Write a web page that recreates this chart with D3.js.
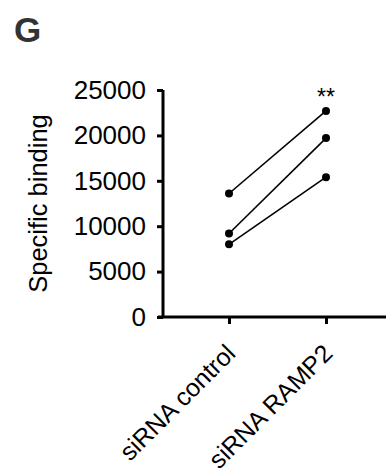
<!DOCTYPE html>
<html lang="en">
<head>
<meta charset="UTF-8">
<title>Specific binding</title>
<script src="https://d3js.org/d3.v7.min.js"></script>
<style>
    body { margin: 0; background: #fff; }
    text { font-family: "Liberation Sans", Arial, sans-serif; fill: #000; }
</style>
</head>
<body>
<div id="chart"></div>
<script>
    // data
    const groups = ['siRNA control', 'siRNA RAMP2'];
    const controlValues = [13600, 9200, 8000];
    const rampValues = [22700, 19700, 15400];
    const yTicks = [0, 5000, 10000, 15000, 20000, 25000];
    const significance = '**';

    const width = 386, height = 475;
    const margin = {top: 90, right: 0, bottom: 158, left: 163};

    const svg = d3.select('#chart').append('svg')
        .attr('width', width)
        .attr('height', height);

    // panel letter
    svg.append('text')
        .attr('x', 14).attr('y', 42)
        .style('font-size', '35px')
        .style('font-weight', 'bold')
        .style('fill', '#333')
        .text('G');

    const y = d3.scaleLinear()
        .domain([0, 25000])
        .range([height - margin.bottom, margin.top]);

    const x = d3.scalePoint()
        .domain(groups)
        .range([229, 326]);

    // y axis
    const yAxis = svg.append('g')
        .attr('transform', `translate(${margin.left},0)`)
        .call(d3.axisLeft(y).tickValues(yTicks).tickSize(6).tickPadding(11).tickFormat(d3.format('d')));
    yAxis.select('.domain').attr('d', `M0,${y(0)}V${y(25000)}`).attr('stroke-width', 3);
    yAxis.selectAll('.tick line').attr('stroke-width', 3);
    yAxis.selectAll('text').style('font-size', '26px').attr('font-family', null);

    // x axis
    const xAxis = svg.append('g')
        .attr('transform', `translate(0,${y(0)})`)
        .call(d3.axisBottom(x).tickSize(7).tickFormat(''));
    xAxis.select('.domain').attr('d', `M${margin.left - 5},0H${width}`).attr('stroke-width', 3);
    xAxis.selectAll('.tick line').attr('stroke-width', 3);

    // rotated group labels
    svg.selectAll('.group-label')
        .data(groups)
        .enter().append('text')
        .attr('class', 'group-label')
        .attr('transform', d => `translate(${x(d) + 8},${y(0) + 38}) rotate(-45)`)
        .attr('text-anchor', 'end')
        .style('font-size', '25px')
        .text(d => d);

    // y label
    svg.append('text')
        .attr('transform', `translate(47,${(y(0) + y(25000)) / 2}) rotate(-90)`)
        .attr('text-anchor', 'middle')
        .style('font-size', '25.5px')
        .text('Specific binding');

    // paired lines
    const pairs = controlValues.map((v, i) => [v, rampValues[i]]);
    svg.selectAll('.pair')
        .data(pairs)
        .enter().append('line')
        .attr('class', 'pair')
        .attr('x1', x(groups[0]))
        .attr('y1', d => y(d[0]))
        .attr('x2', x(groups[1]))
        .attr('y2', d => y(d[1]))
        .attr('stroke', '#000')
        .attr('stroke-width', 1.6);

    const points = [];
    pairs.forEach(p => {
        points.push({g: groups[0], v: p[0]});
        points.push({g: groups[1], v: p[1]});
    });
    svg.selectAll('.dot')
        .data(points)
        .enter().append('circle')
        .attr('class', 'dot')
        .attr('cx', d => x(d.g))
        .attr('cy', d => y(d.v))
        .attr('r', 4)
        .attr('fill', '#000');

    // significance stars
    svg.append('text')
        .attr('x', x(groups[1]))
        .attr('y', y(d3.max(rampValues)) - 6)
        .attr('text-anchor', 'middle')
        .style('font-size', '23px')
        .text(significance);
</script>
</body>
</html>
